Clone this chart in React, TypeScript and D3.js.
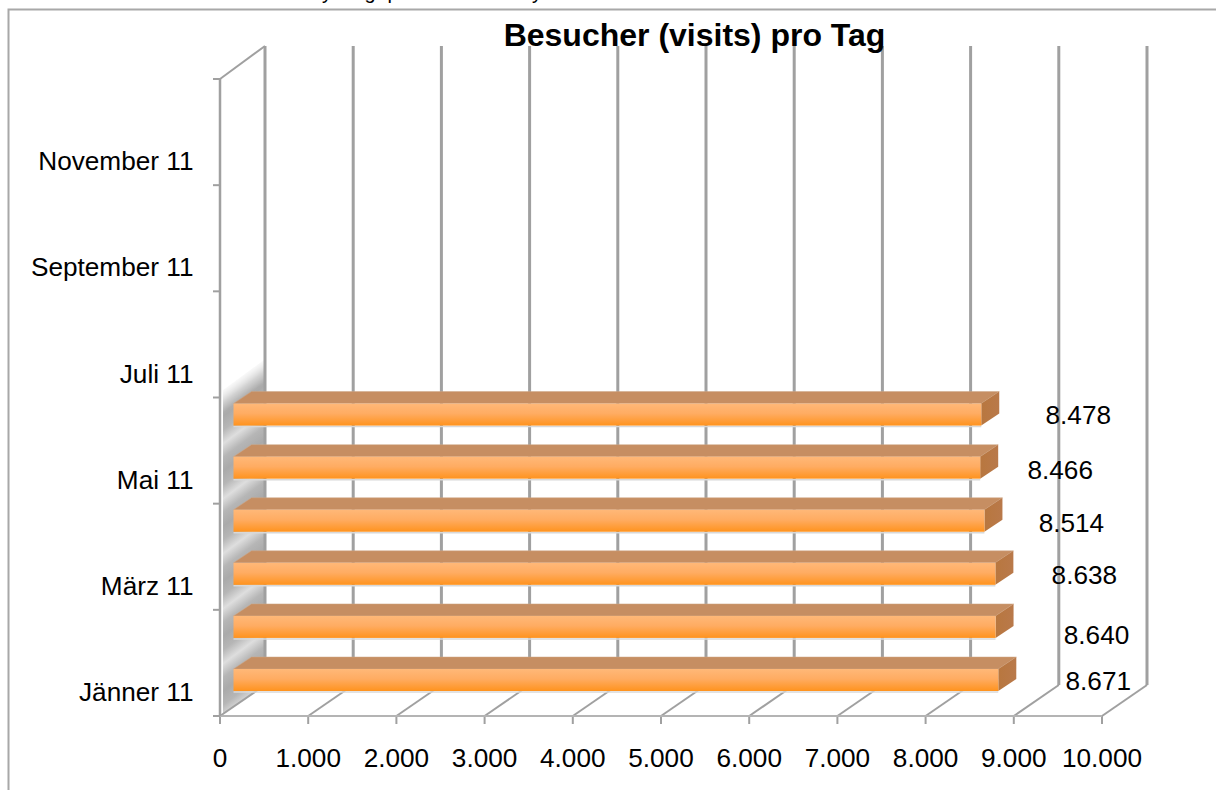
import React from "react";
import * as d3 from "d3";

const categories = ["Jänner 11","Februar 11","März 11","April 11","Mai 11","Juni 11","Juli 11","August 11","September 11","Oktober 11","November 11","Dezember 11"];
const visits = [8671, 8640, 8638, 8514, 8466, 8478];
const valueTicks = [0,1000,2000,3000,4000,5000,6000,7000,8000,9000,10000];
const title = "Besucher (visits) pro Tag";
const clippedGlyphs = [{ t: "y", x: 327 }, { t: "g", x: 370 }, { t: "p", x: 393 }, { t: "y", x: 537 }];
// hand-moved data labels in the source chart
const labelNudgeX = [100, 101, 89, 87, 80, 97];
const labelNudgeY = [0, 8, 1, 2, 2, 0];

const W = 1216, H = 790;
const FONT = "'Liberation Sans', Arial, sans-serif";
const GRID = "#a0a0a0";
const DX = 45, DY = -31;
const LABEL_SIZE = 26.2;

const x = d3.scaleLinear().domain([0, 10000]).range([220, 1102]);
const y = d3.scaleBand().domain(categories).range([716, 79]);
const fmt = (v: number) => d3.format(",")(v).replace(/,/g, ".");
const pts = (p: number[][]) => p.map((q) => q.join(",")).join(" ");

export default function App() {
  const bw = y.bandwidth();
  const barX0 = x(0) + 13.5;
  const barEnd = (v: number) => x(v) + 13.5;
  const barBottom = (c: string) => (y(c) as number) + bw - 25;
  const faceH = 22, depthX = 18, depthY = 12;
  return (
    <svg width={W} height={H} style={{ position: "absolute", left: 0, top: 0, background: "#fff" }} fontFamily={FONT}>
      <defs>
        <linearGradient id="front" x1="0" x2="0" y1="0" y2="1">
          <stop offset="0" stopColor="#ffb878" />
          <stop offset="0.45" stopColor="#ffac62" />
          <stop offset="1" stopColor="#ff931e" />
        </linearGradient>
        <linearGradient id="side" x1="0" x2="1" y1="0" y2="0">
          <stop offset="0" stopColor="#b8773f" />
          <stop offset="1" stopColor="#b9794a" />
        </linearGradient>
        <linearGradient id="wall" gradientUnits="userSpaceOnUse" x1="228" y1="440" x2="241.2" y2="457.6" spreadMethod="reflect">
          <stop offset="0" stopColor="#dedede" />
          <stop offset="0.5" stopColor="#b6b6b6" />
          <stop offset="1" stopColor="#aaaaaa" />
        </linearGradient>
        <linearGradient id="wallFade" gradientUnits="userSpaceOnUse" x1="244" y1="370" x2="257" y2="388">
          <stop offset="0" stopColor="#000" />
          <stop offset="1" stopColor="#fff" />
        </linearGradient>
        <mask id="wallMask" maskUnits="userSpaceOnUse" x="200" y="340" width="100" height="400">
          <rect x="200" y="340" width="100" height="400" fill="url(#wallFade)" />
        </mask>
      </defs>

      {/* clipped line of text above the frame */}
      {clippedGlyphs.map((g, i) => (
        <text key={i} x={g.x} y={-1} fontSize={20} textAnchor="middle" fill="#000">{g.t}</text>
      ))}

      {/* outer frame */}
      <path d={`M8.5,${H} V9.5 H${W}`} fill="none" stroke="#a8a8a8" strokeWidth={2} />

      {/* shaded wall */}
      <polygon
        points={pts([[223, 714], [x(0) + DX - 1, 685], [x(0) + DX - 1, 360], [223, 390]])}
        fill="url(#wall)"
        mask="url(#wallMask)"
      />

      {/* back wall gridlines */}
      {valueTicks.map((v) => (
        <line key={v} x1={x(v) + DX} x2={x(v) + DX} y1={46} y2={y.range()[0] + DY} stroke={GRID} strokeWidth={3} />
      ))}
      {/* floor diagonals and ticks */}
      {valueTicks.map((v) => (
        <g key={v}>
          <line x1={x(v)} x2={x(v) + DX} y1={716} y2={716 + DY} stroke={GRID} strokeWidth={2} />
          <line x1={x(v)} x2={x(v)} y1={716} y2={724} stroke={GRID} strokeWidth={2} />
        </g>
      ))}
      {/* floor front and left walls */}
      <line x1={213} x2={x(10000)} y1={716} y2={716} stroke="#b4b4b4" strokeWidth={2} />
      <line x1={x(0)} x2={x(0)} y1={79} y2={716} stroke={GRID} strokeWidth={2.5} />
      <line x1={x(0)} x2={x(0) + DX} y1={79} y2={46} stroke={GRID} strokeWidth={2} />
      {categories.map((c, i) => i % 2 === 0 ? (
        <line key={c} x1={213} x2={x(0)} y1={(y(c) as number) + bw} y2={(y(c) as number) + bw} stroke={GRID} strokeWidth={2} />
      ) : null)}
      <line x1={213} x2={x(0)} y1={79} y2={79} stroke={GRID} strokeWidth={2} />

      {/* bars */}
      {visits.map((v, i) => {
        const c = categories[i];
        const b = barBottom(c), t = b - faceH, e = barEnd(v);
        return (
          <g key={c}>
            <line x1={barX0} x2={e} y1={b + 1} y2={b + 1} stroke="#d8d8d8" strokeWidth={1.5} />
            <polygon points={pts([[barX0, t], [barX0 + depthX, t - depthY], [e + depthX, t - depthY], [e, t]])} fill="#c68e62" stroke="#cfa687" strokeWidth={0.5} />
            <polygon points={pts([[e, t], [e + depthX, t - depthY], [e + depthX, b - depthY], [e, b]])} fill="url(#side)" />
            <rect x={barX0} y={t} width={e - barX0} height={faceH} fill="url(#front)" />
          </g>
        );
      })}

      {/* category labels */}
      {categories.map((c, i) => i % 2 === 0 ? (
        <text key={c} x={193.5} y={(y(c) as number) + bw - 15} fontSize={LABEL_SIZE} textAnchor="end" fill="#000">{c}</text>
      ) : null)}

      {/* value axis labels */}
      {valueTicks.map((v) => (
        <text key={v} x={x(v)} y={767} fontSize={LABEL_SIZE} textAnchor="middle" fill="#000">{fmt(v)}</text>
      ))}

      {/* data labels */}
      {visits.map((v, i) => {
        const c = categories[i];
        const b = barBottom(c);
        return (
          <text key={c} x={barEnd(v) + labelNudgeX[i]} y={b - faceH / 2 + labelNudgeY[i] + 9.5} fontSize={LABEL_SIZE} textAnchor="middle" fill="#000">{fmt(v)}</text>
        );
      })}

      <text x={694.5} y={46} fontSize={32} fontWeight="bold" textAnchor="middle" fill="#000">{title}</text>
    </svg>
  );
}
